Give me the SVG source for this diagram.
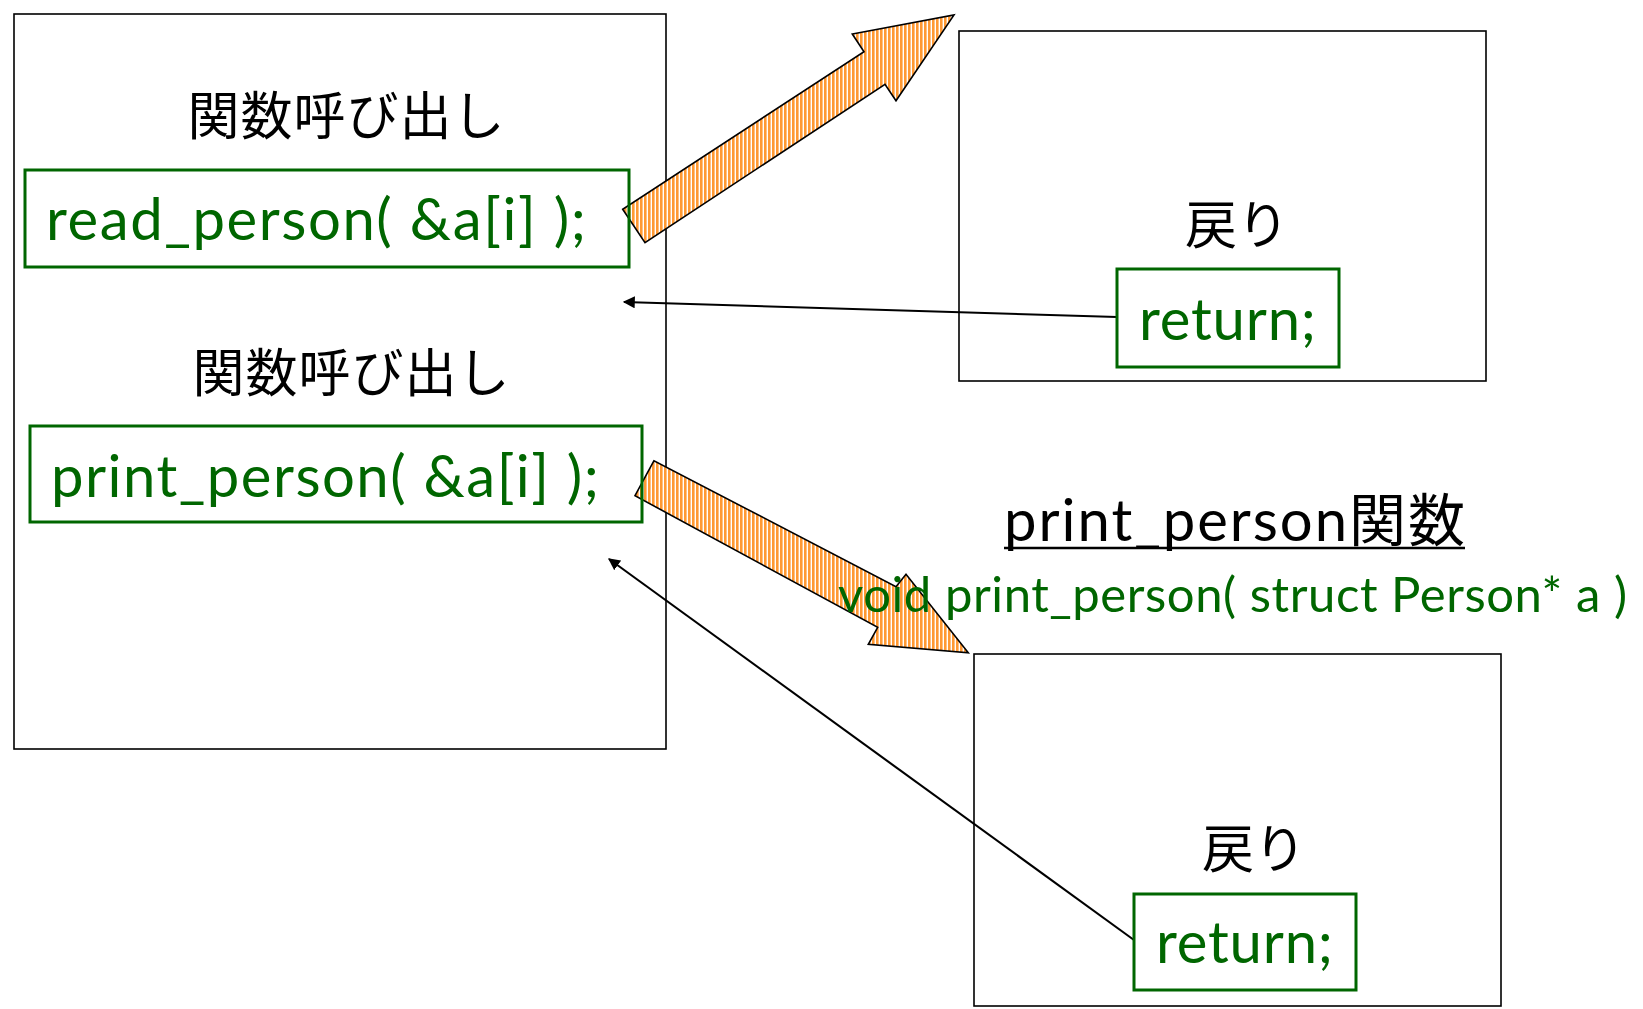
<svg xmlns="http://www.w3.org/2000/svg" width="1643" height="1009" viewBox="0 0 1643 1009">
<defs>
<pattern id="stripe" patternUnits="userSpaceOnUse" width="4" height="4">
<rect x="0" y="0" width="4" height="4" fill="#ffffff"/>
<rect x="0" y="0" width="2.6" height="4" fill="#ff9933"/>
</pattern>
<marker id="ah" viewBox="0 0 10 10" refX="9" refY="5" markerWidth="12" markerHeight="12" markerUnits="userSpaceOnUse" orient="auto">
<path d="M0,0 L10,5 L0,10 z" fill="#000"/>
</marker>
<style>
.box{fill:#fff;stroke:#000;stroke-width:1.6}
.gbox{fill:none;stroke:#006600;stroke-width:3}
.jp{font-family:"Noto Sans CJK JP",sans-serif;font-size:52px;fill:#000}
.code{font-family:Lato,"Noto Sans CJK JP",sans-serif;font-size:58px;fill:#006600}
.sig{font-family:Lato,sans-serif;font-size:49px;fill:#006600}
.fat{fill:url(#stripe);stroke:#000;stroke-width:1.6;stroke-linejoin:miter}
.thin{stroke:#000;stroke-width:2.1;fill:none;marker-end:url(#ah)}
</style>
</defs>
<rect width="1643" height="1009" fill="#fff"/>
<g id="main">
<rect class="box" x="14" y="14" width="652" height="735"/>
<text class="jp" x="346" y="135" text-anchor="middle" textLength="317">関数呼び出し</text>
<text class="jp" x="351" y="392" text-anchor="middle" textLength="317">関数呼び出し</text>
</g>
<g id="read_func">
<rect class="box" x="959" y="31" width="527" height="350"/>
<text class="jp" x="1237" y="244" text-anchor="middle" textLength="104">戻り</text>
</g>
<g id="print_func">
<rect class="box" x="974" y="654" width="527" height="352"/>
<text class="jp" x="1254" y="868" text-anchor="middle" textLength="104">戻り</text>
</g>
<g id="connectors">
<polygon class="fat" points="622.7,209.3 645,242.7 885,84.3 896,100.7 954,15 852.3,34 864,51.7"/>
<polygon class="fat" points="654,460.7 635,495.7 877.7,627.3 868.3,644.3 968.3,652.7 906,574.3 896,586.7"/>
<line class="thin" x1="1117" y1="317" x2="624" y2="302"/>
<line class="thin" x1="1134" y1="940" x2="609" y2="559"/>
</g>
<g id="call_read">
<rect class="gbox" x="25" y="170" width="604" height="97"/>
<text class="code" x="46" y="240" textLength="540">read_person( &amp;a[i] );</text>
</g>
<g id="call_print">
<rect class="gbox" x="30" y="426" width="612" height="96"/>
<text class="code" x="51" y="497" textLength="548">print_person( &amp;a[i] );</text>
</g>
<g id="return_read">
<rect class="gbox" x="1117" y="269" width="222" height="98"/>
<text class="code" x="1139" y="340" textLength="177">return;</text>
</g>
<g id="return_print">
<rect class="gbox" x="1134" y="894" width="222" height="96"/>
<text class="code" x="1156" y="963" textLength="177">return;</text>
</g>
<g id="print_title">
<text x="1004" y="541" font-family="Lato,'Noto Sans CJK JP',sans-serif" font-size="58" fill="#000" textLength="461">print_person<tspan font-family="'Noto Sans CJK JP',sans-serif" font-size="57">関数</tspan></text>
<line x1="1004" y1="548" x2="1465" y2="548" stroke="#000" stroke-width="2.5"/>
<text class="sig" x="838" y="612" textLength="789">void print_person( struct Person* a )</text>
</g>
</svg>
